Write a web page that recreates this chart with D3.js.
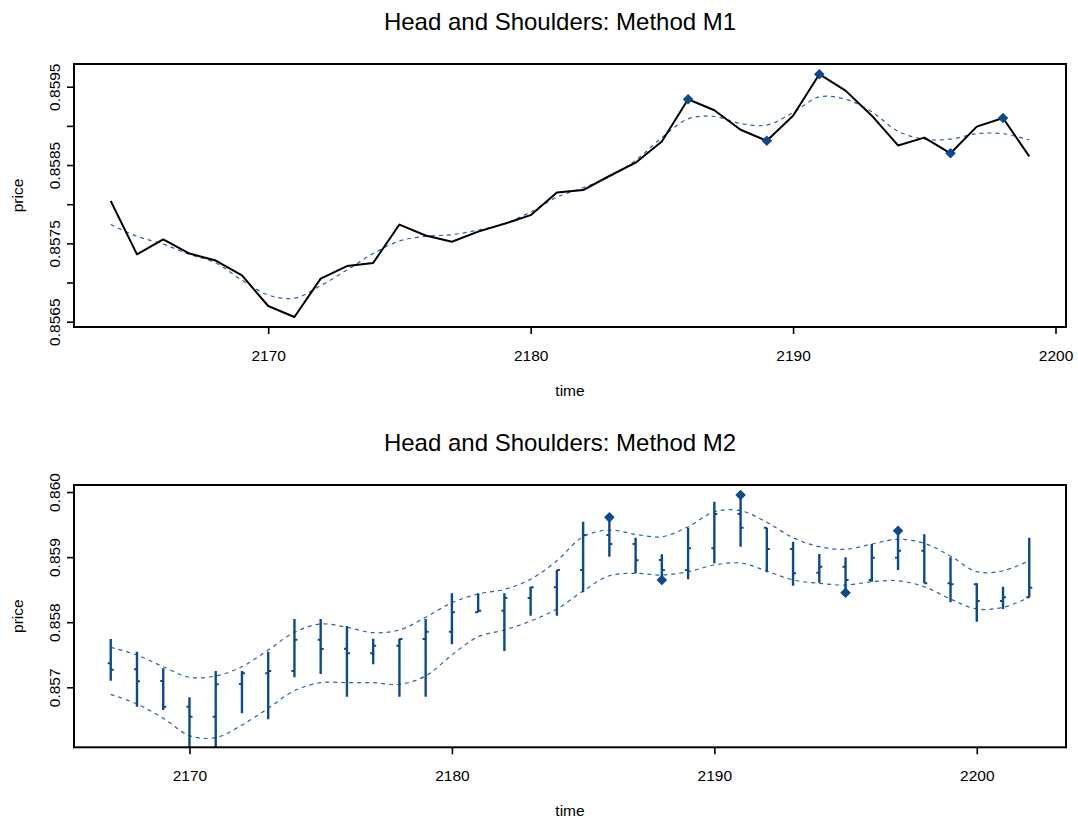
<!DOCTYPE html>
<html>
<head>
<meta charset="utf-8">
<script src="https://cdn.jsdelivr.net/npm/d3@7"></script>
<style>
  html, body { margin: 0; padding: 0; background: #fff; }
  text { font-family: "Liberation Sans", Arial, Helvetica, sans-serif; fill: #000; }
</style>
</head>
<body>
<svg id="chart" width="1078" height="821"></svg>
<script>
// ---------- Panel 1 data (Method M1) ----------
const times1 = [2164,2165,2166,2167,2168,2169,2170,2171,2172,2173,2174,2175,2176,2177,2178,2179,2180,2181,
                2182,2183,2184,2185,2186,2187,2188,2189,2190,2191,2192,2193,2194,2195,2196,2197,2198,2199];
const price1 = [0.85804,0.85736,0.85755,0.85737,0.85728,0.85709,0.85670,0.85656,0.85705,0.85721,0.85725,0.85774,
                0.85760,0.85752,0.85765,0.85775,0.85786,0.85815,0.85818,0.85836,0.85853,0.85880,0.85934,0.85920,
                0.85895,0.85881,0.85913,0.85966,0.85945,0.85913,0.85875,0.85885,0.85865,0.85899,0.85910,0.85861];
const smooth1 = [0.85774,0.85759,0.85749,0.85736,0.85725,0.85703,0.85684,0.85680,0.85696,0.85716,0.85737,0.85753,
                 0.85759,0.85761,0.85767,0.85775,0.85790,0.85809,0.85821,0.85835,0.85856,0.85885,0.85909,0.85912,
                 0.85903,0.85901,0.85917,0.85937,0.85934,0.85918,0.85893,0.85883,0.85883,0.85890,0.85890,0.85882];
const marks1 = [2186, 2189, 2191, 2196, 2198];
const yTicks1 = [0.8565,0.8570,0.8575,0.8580,0.8585,0.8590,0.8595];
const yLabels1 = ["0.8565","","0.8575","","0.8585","","0.8595"];
const xTicks1 = [2170, 2180, 2190, 2200];

// ---------- Panel 2 data (Method M2) ----------
const times2 = [2167,2168,2169,2170,2171,2172,2173,2174,2175,2176,2177,2178,2179,2180,2181,2182,2183,2184,
                2185,2186,2187,2188,2189,2190,2191,2192,2193,2194,2195,2196,2197,2198,2199,2200,2201,2202];
const open2 = [0.857369,0.857276,0.857097,0.856702,0.856548,0.857051,0.857215,0.857250,0.857731,0.857593,0.857522,0.857639,
               0.857742,0.857854,0.858152,0.858177,0.858372,0.858536,0.858802,0.859339,0.859201,0.858955,0.858802,0.859135,
               0.859662,0.859452,0.859124,0.858760,0.858853,0.858648,0.858991,0.859098,0.858598,0.858582,0.858326,0.858382];
const high2 = [0.857742,0.857547,0.857292,0.856846,0.857250,0.857250,0.857547,0.858049,0.858049,0.857942,0.857747,0.857747,
               0.858049,0.858444,0.858444,0.858444,0.858545,0.858802,0.859544,0.859611,0.859298,0.859043,0.859452,0.859851,
               0.859954,0.859452,0.859237,0.859048,0.858997,0.859201,0.859405,0.859350,0.858997,0.858598,0.858545,0.859298];
const low2 = [0.857101,0.856702,0.856651,0.856000,0.856000,0.856600,0.856510,0.857154,0.857204,0.856856,0.857353,0.856856,
              0.856856,0.857660,0.858152,0.857558,0.858100,0.858100,0.858459,0.859006,0.858751,0.858648,0.858659,0.858905,
              0.859160,0.858767,0.858561,0.858607,0.858453,0.858622,0.858802,0.858598,0.858306,0.858008,0.858203,0.858382];
const close2 = [0.857270,0.857092,0.856702,0.856548,0.857046,0.857215,0.857250,0.857731,0.857588,0.857522,0.857639,0.857742,
                0.857854,0.858152,0.858177,0.858372,0.858536,0.858802,0.859339,0.859201,0.858951,0.858802,0.859135,0.859662,
                0.859452,0.859124,0.858751,0.858853,0.858648,0.858991,0.859098,0.858598,0.858582,0.858326,0.858382,0.858530];
const upper2 = [0.857614,0.857496,0.857316,0.857154,0.857174,0.857316,0.857573,0.857845,0.857972,0.857922,0.857839,0.857880,
                0.858075,0.858300,0.858433,0.858505,0.858659,0.858945,0.859313,0.859416,0.859350,0.859313,0.859467,0.859697,
                0.859713,0.859535,0.859298,0.859160,0.859120,0.859201,0.859273,0.859212,0.859017,0.858776,0.858791,0.858945];
const lower2 = [0.856892,0.856743,0.856524,0.856257,0.856226,0.856421,0.856677,0.856948,0.857071,0.857071,0.857071,0.857046,
                0.857174,0.857496,0.857777,0.857880,0.858018,0.858203,0.858479,0.858714,0.858751,0.858725,0.858776,0.858879,
                0.858909,0.858786,0.858648,0.858598,0.858571,0.858622,0.858637,0.858545,0.858356,0.858203,0.858229,0.858382];
const marksHigh2 = [2186, 2191, 2197];
const marksLow2 = [2188, 2195];
const yTicks2 = [0.857, 0.858, 0.859, 0.860];
const yLabels2 = ["0.857","0.858","0.859","0.860"];
const xTicks2 = [2170, 2180, 2190, 2200];

const titles = ["Head and Shoulders: Method M1", "Head and Shoulders: Method M2"];

// ---------- styling ----------
const BLUE = "#0b4a8c";
const DASH = "#2b63a3";
const svg = d3.select("#chart");
const L = 74, R = 1066;

function panel(cfg) {
  const g = svg.append("g");
  const x = d3.scaleLinear().domain(cfg.xdom).range([L, R]);
  const y = d3.scaleLinear().domain(cfg.ydom).range([cfg.bottom, cfg.top]);
  const clipId = "clip" + cfg.id;
  svg.append("clipPath").attr("id", clipId).append("rect")
    .attr("x", L).attr("y", cfg.top).attr("width", R - L).attr("height", cfg.bottom - cfg.top);

  // title
  g.append("text").attr("x", 560).attr("y", cfg.titleY).attr("text-anchor", "middle")
    .style("font-size", "24px").text(cfg.title);

  // x axis
  const xa = g.append("g").attr("transform", `translate(0,${cfg.bottom})`)
    .call(d3.axisBottom(x).tickValues(cfg.xticks).tickSize(7).tickPadding(16).tickFormat(d3.format("d")));
  xa.select(".domain").remove();
  xa.selectAll("line").attr("stroke", "#000").attr("stroke-width", 1.6);
  xa.selectAll("text").style("font-size", "15.5px").attr("font-family", null);

  // y axis
  const ya = g.append("g").attr("transform", `translate(${L},0)`)
    .call(d3.axisLeft(y).tickValues(cfg.yticks).tickSize(7).tickFormat((d, i) => cfg.ylabels[i]));
  ya.select(".domain").remove();
  ya.selectAll("line").attr("stroke", "#000").attr("stroke-width", 1.6);
  ya.selectAll("text").style("font-size", "15.5px").attr("font-family", null)
    .attr("x", null).attr("dy", null)
    .attr("text-anchor", "middle")
    .attr("transform", "translate(-14,0) rotate(-90)");

  // axis labels
  g.append("text").attr("x", (L + R) / 2).attr("y", cfg.xlabY).attr("text-anchor", "middle")
    .style("font-size", "15.5px").text("time");
  g.append("text").attr("transform", `translate(23,${(cfg.top + cfg.bottom) / 2}) rotate(-90)`)
    .attr("text-anchor", "middle").style("font-size", "15.5px").text("price");

  const plot = g.append("g").attr("clip-path", `url(#${clipId})`);
  // box
  g.append("rect").attr("x", L).attr("y", cfg.top).attr("width", R - L).attr("height", cfg.bottom - cfg.top)
    .attr("fill", "none").attr("stroke", "#000").attr("stroke-width", 2);
  return {x, y, plot, g};
}

function diamond(sel, cx, cy) {
  sel.append("path").attr("d", d3.symbol(d3.symbolSquare, 56)())
    .attr("transform", `translate(${cx},${cy}) rotate(45)`).attr("fill", BLUE);
}

// ---------- Panel 1 ----------
{
  const p = panel({id: 1, title: titles[0], top: 64, bottom: 327, titleY: 30, xlabY: 396,
                   xdom: [2162.6, 2200.4], ydom: [0.856432, 0.85979],
                   xticks: xTicks1, yticks: yTicks1, ylabels: yLabels1});
  const pts = times1.map((t, i) => ({t, v: price1[i], s: smooth1[i]}));
  p.plot.append("path").datum(pts)
    .attr("d", d3.line().x(d => p.x(d.t)).y(d => p.y(d.s)).curve(d3.curveCatmullRom))
    .attr("fill", "none").attr("stroke", DASH).attr("stroke-width", 1.2).attr("stroke-dasharray", "4,4");
  p.plot.append("path").datum(pts)
    .attr("d", d3.line().x(d => p.x(d.t)).y(d => p.y(d.v)))
    .attr("fill", "none").attr("stroke", "#000").attr("stroke-width", 2).attr("stroke-linejoin", "round");
  marks1.forEach(t => {
    const i = times1.indexOf(t);
    diamond(p.plot, p.x(t), p.y(price1[i]));
  });
}

// ---------- Panel 2 ----------
{
  const p = panel({id: 2, title: titles[1], top: 485, bottom: 747.3, titleY: 451, xlabY: 816,
                   xdom: [2165.6, 2203.4], ydom: [0.856078, 0.860108],
                   xticks: xTicks2, yticks: yTicks2, ylabels: yLabels2});
  const pts = times2.map((t, i) => ({t, o: open2[i], h: high2[i], l: low2[i], c: close2[i], u: upper2[i], lo: lower2[i]}));
  ["u", "lo"].forEach(k => {
    p.plot.append("path").datum(pts)
      .attr("d", d3.line().x(d => p.x(d.t)).y(d => p.y(d[k])).curve(d3.curveCatmullRom))
      .attr("fill", "none").attr("stroke", DASH).attr("stroke-width", 1.2).attr("stroke-dasharray", "4,4");
  });
  const bars = p.plot.append("g").attr("stroke", BLUE);
  pts.forEach(d => {
    const cx = p.x(d.t);
    bars.append("line").attr("x1", cx).attr("x2", cx).attr("y1", p.y(d.h)).attr("y2", p.y(d.l)).attr("stroke-width", 2.4);
    bars.append("line").attr("x1", cx - 3).attr("x2", cx).attr("y1", p.y(d.o)).attr("y2", p.y(d.o)).attr("stroke-width", 2);
    bars.append("line").attr("x1", cx).attr("x2", cx + 3).attr("y1", p.y(d.c)).attr("y2", p.y(d.c)).attr("stroke-width", 2);
  });
  marksHigh2.forEach(t => { const i = times2.indexOf(t); diamond(p.plot, p.x(t), p.y(high2[i])); });
  marksLow2.forEach(t => { const i = times2.indexOf(t); diamond(p.plot, p.x(t), p.y(low2[i])); });
}
</script>
</body>
</html>
